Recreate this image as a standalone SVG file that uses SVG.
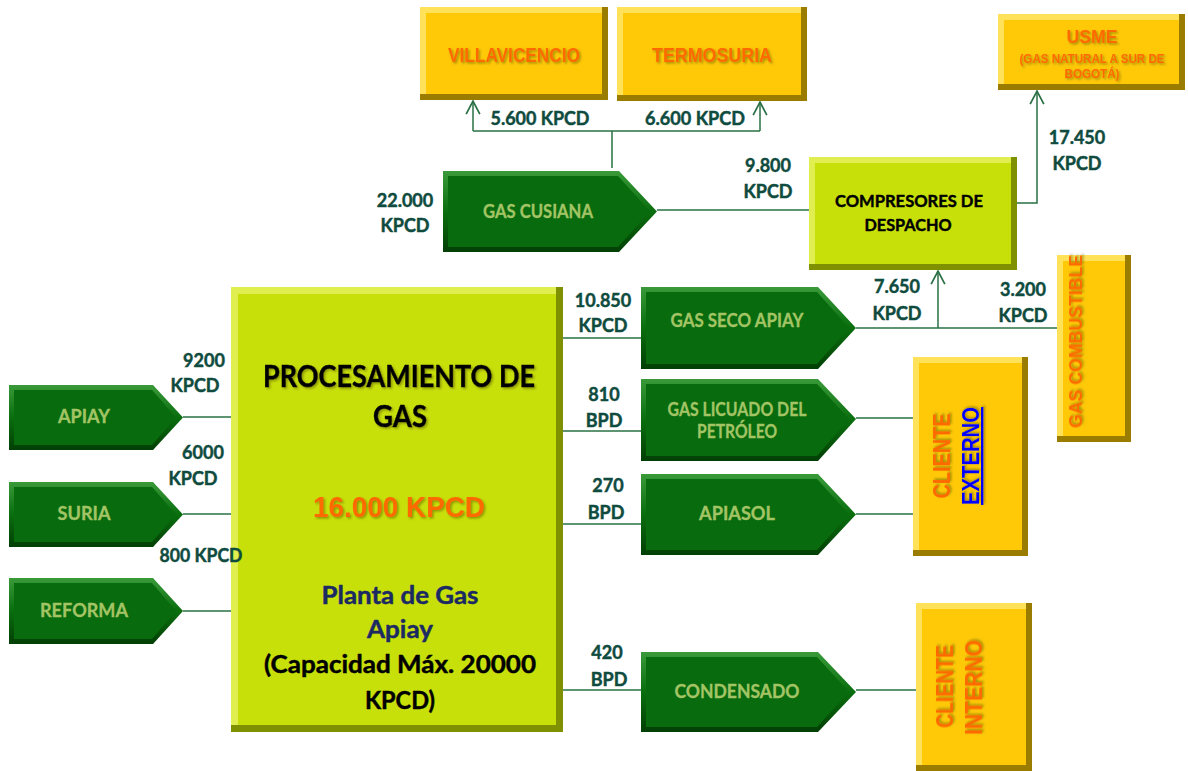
<svg xmlns="http://www.w3.org/2000/svg" width="1188" height="771" viewBox="0 0 1188 771">
<defs>
<style>
.gd{fill:#9a7c00}.gl{fill:#ffe25a}.gm{fill:#ffc908}
.ld{fill:#7f9000}.ll{fill:#e0ee50}.lm{fill:#c8e00a}
.ao{fill:url(#gG)}.ai{fill:#086b0d}
.lbl{font-family:Lato,"Open Sans",sans-serif;font-weight:bold;font-size:18px;fill:#0f4b3e;stroke:#0f4b3e;stroke-width:0.45;text-anchor:middle}
.nt{font-family:Lato,"Open Sans",sans-serif;font-weight:bold;font-size:18px;fill:#a3c465;stroke:#a3c465;stroke-width:0.3;text-anchor:middle}
.ot{font-family:"Liberation Sans",Arial,sans-serif;font-weight:bold;fill:#ff6a00;text-anchor:middle;filter:url(#sh)}
.bt{font-family:Lato,"Open Sans",sans-serif;font-weight:bold;fill:#000;stroke:#000;stroke-width:0.45;text-anchor:middle}
.nv{fill:#1b2a63;stroke:#1b2a63}
.cn{fill:none;stroke:#2a7044;stroke-width:1.5}
</style>
<linearGradient id="gG" x1="0" y1="0" x2="0" y2="1">
<stop offset="0" stop-color="#3a9a3a"/><stop offset="0.5" stop-color="#0a6e0e"/><stop offset="1" stop-color="#023f05"/>
</linearGradient>
<filter id="sh" x="-10%" y="-20%" width="130%" height="150%">
<feDropShadow dx="1.5" dy="1.5" stdDeviation="0.8" flood-color="#5a5a00" flood-opacity="0.55"/>
</filter>
<marker id="ah" markerUnits="userSpaceOnUse" markerWidth="16" markerHeight="16" viewBox="0 0 14 14" refX="12.5" refY="7" orient="auto">
<path d="M1,1 L12.5,7 L1,13" fill="none" stroke="#2a7044" stroke-width="1.5"/>
</marker>
</defs>
<rect width="1188" height="771" fill="#fff"/>

<g id="connectors">
<path class="cn" d="M612,168 V131"/>
<path class="cn" d="M473,131 H760"/>
<path class="cn" d="M473,131 V101" marker-end="url(#ah)"/>
<path class="cn" d="M760,131 V102" marker-end="url(#ah)"/>
<path class="cn" d="M657,210 H809"/>
<path class="cn" d="M1017,203 H1037 V91" marker-end="url(#ah)"/>
<path class="cn" d="M856,328 H1057"/>
<path class="cn" d="M938,328 V271" marker-end="url(#ah)"/>
<path class="cn" d="M183,417 H231"/>
<path class="cn" d="M183,514 H231"/>
<path class="cn" d="M183,611 H231"/>
<path class="cn" d="M563,338 H641"/>
<path class="cn" d="M563,431 H641"/>
<path class="cn" d="M563,524 H641"/>
<path class="cn" d="M563,690 H641"/>
<path class="cn" d="M856,418 H913"/>
<path class="cn" d="M856,514 H913"/>
<path class="cn" d="M856,690 H916"/>
</g>

<g id="villavicencio">
<rect class="gd" x="420" y="7" width="188" height="93"/>
<rect class="gl" x="420" y="7" width="182" height="87"/>
<rect class="gm" x="426" y="13" width="176" height="81"/>
<text class="ot" x="514" y="62" font-size="21" textLength="132" lengthAdjust="spacingAndGlyphs">VILLAVICENCIO</text>
</g>
<g id="termosuria">
<rect class="gd" x="617" y="7" width="190" height="94"/>
<rect class="gl" x="617" y="7" width="184" height="88"/>
<rect class="gm" x="623" y="13" width="178" height="82"/>
<text class="ot" x="712" y="62" font-size="21" textLength="120" lengthAdjust="spacingAndGlyphs">TERMOSURIA</text>
</g>
<g id="usme">
<rect class="gd" x="998" y="14" width="187" height="76"/>
<rect class="gl" x="998" y="14" width="181" height="70"/>
<rect class="gm" x="1004" y="20" width="175" height="64"/>
<text class="ot" x="1092" y="43" font-size="19" textLength="51" lengthAdjust="spacingAndGlyphs">USME</text>
<text class="ot" x="1092" y="63" font-size="13" textLength="145" lengthAdjust="spacingAndGlyphs">(GAS NATURAL A SUR DE</text>
<text class="ot" x="1092" y="78" font-size="13" textLength="55" lengthAdjust="spacingAndGlyphs">BOGOTÁ)</text>
</g>
<g id="gas-combustible">
<rect class="gd" x="1057" y="255" width="74" height="187"/>
<rect class="gl" x="1057" y="255" width="68" height="181"/>
<rect class="gm" x="1063" y="261" width="62" height="175"/>
<text class="ot" transform="translate(1082,341.5) rotate(-90)" font-size="18" textLength="173" lengthAdjust="spacingAndGlyphs">GAS COMBUSTIBLE</text>
</g>
<g id="cliente-externo">
<rect class="gd" x="913" y="357" width="115" height="199"/>
<rect class="gl" x="913" y="357" width="109" height="193"/>
<rect class="gm" x="919" y="363" width="103" height="187"/>
<text class="ot" transform="translate(950,456) rotate(-90)" font-size="24" textLength="85" lengthAdjust="spacingAndGlyphs">CLIENTE</text>
<text class="ot" transform="translate(979,456) rotate(-90)" font-size="24" textLength="98" lengthAdjust="spacingAndGlyphs" style="fill:#0000ff" text-decoration="underline">EXTERNO</text>
</g>
<g id="cliente-interno">
<rect class="gd" x="916" y="603" width="116" height="168"/>
<rect class="gl" x="916" y="603" width="110" height="162"/>
<rect class="gm" x="922" y="609" width="104" height="156"/>
<text class="ot" transform="translate(953,686.5) rotate(-90)" font-size="24" textLength="83" lengthAdjust="spacingAndGlyphs">CLIENTE</text>
<text class="ot" transform="translate(982,687.5) rotate(-90)" font-size="24" textLength="95" lengthAdjust="spacingAndGlyphs">INTERNO</text>
</g>

<g id="compresores">
<rect class="ld" x="809" y="157" width="208" height="113"/>
<rect class="ll" x="809" y="157" width="202" height="107"/>
<rect class="lm" x="815" y="163" width="196" height="101"/>
<text class="bt" x="909" y="207" font-size="17" textLength="148" lengthAdjust="spacingAndGlyphs">COMPRESORES DE</text>
<text class="bt" x="908" y="231" font-size="17" textLength="87" lengthAdjust="spacingAndGlyphs">DESPACHO</text>
</g>
<g id="procesamiento">
<rect class="ld" x="231" y="287" width="332" height="445"/>
<rect class="ll" x="231" y="287" width="325" height="438"/>
<rect class="lm" x="238" y="294" width="318" height="431"/>
<text class="bt" x="399" y="387" font-size="30" textLength="272" lengthAdjust="spacingAndGlyphs" filter="url(#sh)">PROCESAMIENTO DE</text>
<text class="bt" x="400" y="427" font-size="30" textLength="54" lengthAdjust="spacingAndGlyphs" filter="url(#sh)">GAS</text>
<text class="ot" x="399" y="517" font-size="30" textLength="172" lengthAdjust="spacingAndGlyphs">16.000 KPCD</text>
<text class="bt nv" x="400" y="604" font-size="24" textLength="157" lengthAdjust="spacingAndGlyphs">Planta de Gas</text>
<text class="bt nv" x="400" y="638" font-size="24" textLength="66" lengthAdjust="spacingAndGlyphs">Apiay</text>
<text class="bt" x="400" y="673" font-size="24" textLength="272" lengthAdjust="spacingAndGlyphs">(Capacidad Máx. 20000</text>
<text class="bt" x="400" y="709" font-size="24" textLength="70" lengthAdjust="spacingAndGlyphs">KPCD)</text>
</g>

<g id="gas-cusiana">
<polygon class="ao" points="443,171 619,171 657,211.5 619,252 443,252"/>
<polygon class="ai" points="448,176 618,176 650,211.5 618,247 448,247"/>
<text class="nt" x="538" y="218" textLength="110" lengthAdjust="spacingAndGlyphs">GAS CUSIANA</text>
</g>
<g id="apiay">
<polygon class="ao" points="9,385 153,385 183,417.5 153,450 9,450"/>
<polygon class="ai" points="14,390 152,390 176,417.5 152,445 14,445"/>
<text class="nt" x="84" y="423" textLength="52" lengthAdjust="spacingAndGlyphs">APIAY</text>
</g>
<g id="suria">
<polygon class="ao" points="9,482 153,482 183,514.5 153,547 9,547"/>
<polygon class="ai" points="14,487 152,487 176,514.5 152,542 14,542"/>
<text class="nt" x="84" y="520" textLength="53" lengthAdjust="spacingAndGlyphs">SURIA</text>
</g>
<g id="reforma">
<polygon class="ao" points="9,578 153,578 183,611 153,644 9,644"/>
<polygon class="ai" points="14,583 152,583 176,611 152,639 14,639"/>
<text class="nt" x="84" y="617" textLength="88" lengthAdjust="spacingAndGlyphs">REFORMA</text>
</g>
<g id="gas-seco-apiay">
<polygon class="ao" points="641,287 818,287 856,328 818,369 641,369"/>
<polygon class="ai" points="646,292 817,292 849,328 817,364 646,364"/>
<text class="nt" x="737" y="327" textLength="133" lengthAdjust="spacingAndGlyphs">GAS SECO APIAY</text>
</g>
<g id="glp">
<polygon class="ao" points="641,379 818,379 856,419 818,461 641,461"/>
<polygon class="ai" points="646,384 817,384 849,419 817,456 646,456"/>
<text class="nt" x="737" y="416" font-size="17" textLength="139" lengthAdjust="spacingAndGlyphs">GAS LICUADO DEL</text>
<text class="nt" x="737" y="438" font-size="17" textLength="80" lengthAdjust="spacingAndGlyphs">PETRÓLEO</text>
</g>
<g id="apiasol">
<polygon class="ao" points="641,474 818,474 856,514.5 818,555 641,555"/>
<polygon class="ai" points="646,479 817,479 849,514.5 817,550 646,550"/>
<text class="nt" x="737" y="520" textLength="76" lengthAdjust="spacingAndGlyphs">APIASOL</text>
</g>
<g id="condensado">
<polygon class="ao" points="641,652 818,652 856,692 818,732 641,732"/>
<polygon class="ai" points="646,657 817,657 849,692 817,727 646,727"/>
<text class="nt" x="737" y="698" textLength="125" lengthAdjust="spacingAndGlyphs">CONDENSADO</text>
</g>

<g id="labels">
<text class="lbl" x="540" y="125" textLength="99" lengthAdjust="spacingAndGlyphs">5.600 KPCD</text>
<text class="lbl" x="695" y="125" textLength="100" lengthAdjust="spacingAndGlyphs">6.600 KPCD</text>
<text class="lbl" x="405" y="207">22.000</text>
<text class="lbl" x="405" y="232">KPCD</text>
<text class="lbl" x="768" y="172">9.800</text>
<text class="lbl" x="768" y="198">KPCD</text>
<text class="lbl" x="1077" y="144">17.450</text>
<text class="lbl" x="1077" y="170">KPCD</text>
<text class="lbl" x="897" y="293">7.650</text>
<text class="lbl" x="897" y="320">KPCD</text>
<text class="lbl" x="1023" y="296">3.200</text>
<text class="lbl" x="1023" y="322">KPCD</text>
<text class="lbl" x="603" y="307">10.850</text>
<text class="lbl" x="603" y="332">KPCD</text>
<text class="lbl" x="604" y="401">810</text>
<text class="lbl" x="604" y="427">BPD</text>
<text class="lbl" x="608" y="492">270</text>
<text class="lbl" x="606" y="519">BPD</text>
<text class="lbl" x="607" y="659">420</text>
<text class="lbl" x="609" y="686">BPD</text>
<text class="lbl" x="204" y="367">9200</text>
<text class="lbl" x="195" y="392">KPCD</text>
<text class="lbl" x="203" y="459">6000</text>
<text class="lbl" x="193" y="485">KPCD</text>
<text class="lbl" x="201" y="562" textLength="83" lengthAdjust="spacingAndGlyphs">800 KPCD</text>
</g>
</svg>
